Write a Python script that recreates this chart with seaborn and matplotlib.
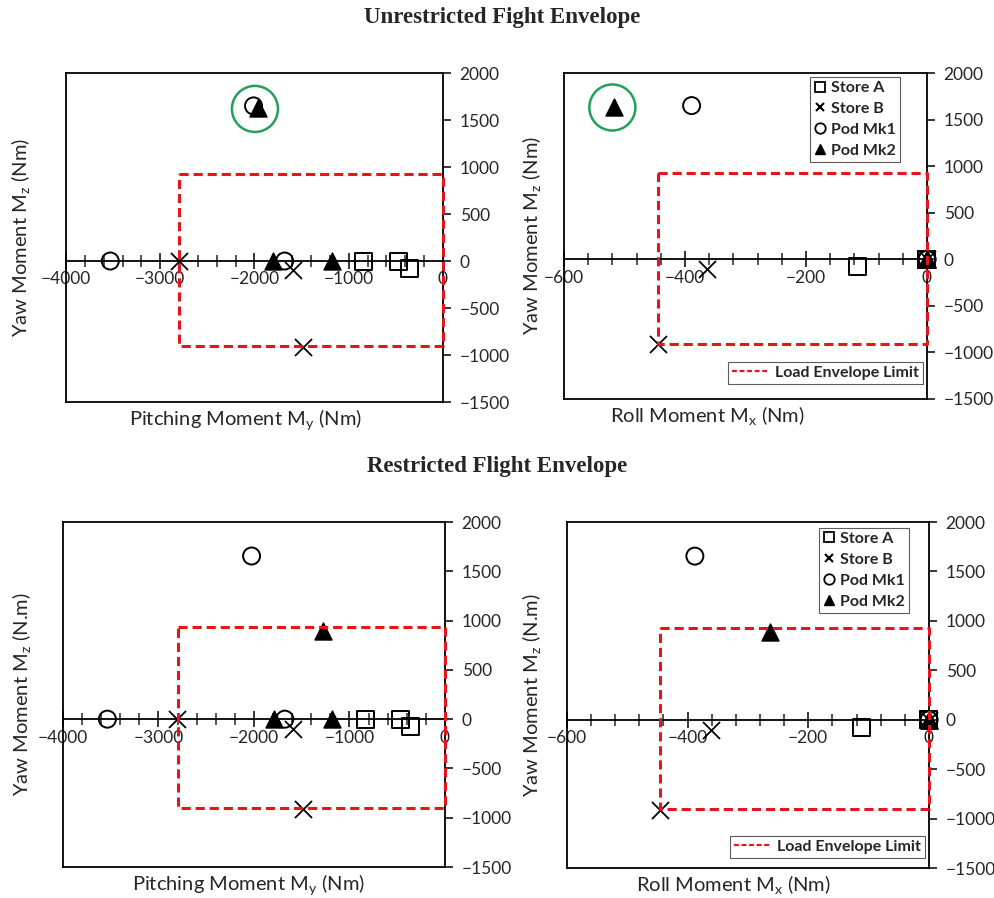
import numpy as np
import pandas as pd
import seaborn as sns
import matplotlib.pyplot as plt
from matplotlib.lines import Line2D
from matplotlib.ticker import MultipleLocator

sns.set_theme(style="white")
plt.rcParams["font.family"] = ["Lato", "DejaVu Sans"]
plt.rcParams["mathtext.default"] = "regular"

stores = ["Store A", "Store B", "Pod Mk1", "Pod Mk2"]

# unrestricted flight envelope
my_u = {"Store A": [-840, -470, -360], "Store B": [-2800, -1590, -1490],
        "Pod Mk1": [-3530, -1680, -2010], "Pod Mk2": [-1800, -1180, -1965]}
mx_u = {"Store A": [0, 0, -114], "Store B": [0, -363, -445],
        "Pod Mk1": [0, 0, -389], "Pod Mk2": [0, 0, -518]}
mz_u = {"Store A": [0, 0, -80], "Store B": [0, -100, -915],
        "Pod Mk1": [0, 0, 1650], "Pod Mk2": [0, 0, 1630]}

# restricted flight envelope
my_r = {"Store A": [-830, -470, -360], "Store B": [-2810, -1590, -1485],
        "Pod Mk1": [-3535, -1677, -2025], "Pod Mk2": [-1790, -1180, -1280]}
mx_r = {"Store A": [0, 0, -111], "Store B": [0, -362, -445],
        "Pod Mk1": [0, 0, -388], "Pod Mk2": [0, 0, -263]}
mz_r = {"Store A": [0, 0, -76], "Store B": [0, -100, -910],
        "Pod Mk1": [0, 0, 1655], "Pod Mk2": [0, 0, 890]}

# load envelope limits
my_lim = -2800
mx_lim = -445
mz_lo, mz_hi = -905, 930

# green highlight rings (top row)
ring_my = [-1995, 1618]
ring_mx = [-520, 1630]

mstyle = {
    "Store A": dict(marker="s", facecolor="none", edgecolor="black", linewidth=1.4),
    "Store B": dict(marker="x", color="black", linewidth=1.3),
    "Pod Mk1": dict(marker="o", facecolor="none", edgecolor="black", linewidth=1.4),
    "Pod Mk2": dict(marker="^", color="black", edgecolor="black", linewidth=1.0),
}


def panel(ax, xs, zs, xlim, xmajor, xminor, env_x, xlabel, ylabel,
          xl_pos, yl_pos, ring=None):
    for s in stores:
        df = pd.DataFrame({"x": xs[s], "z": zs[s]})
        sns.scatterplot(data=df, x="x", y="z", s=150, ax=ax, clip_on=False,
                        zorder=6, legend=False, **mstyle[s])
    ex = [env_x, 0, 0, env_x, env_x]
    ey = [mz_hi, mz_hi, mz_lo, mz_lo, mz_hi]
    ax.plot(ex, ey, color="#e8141b", lw=2.2, ls=(0, (3, 1.6)), zorder=7, clip_on=False)
    if ring is not None:
        ax.scatter([ring[0]], [ring[1]], s=1100, facecolor="none",
                   edgecolor="#23a05a", linewidth=1.8, zorder=5)
    ax.set_xlim(xlim, 0)
    ax.set_ylim(-1500, 2000)
    # x axis through zero, y axis on the right
    ax.spines["bottom"].set_position(("data", 0))
    for k in ["left", "top", "right", "bottom"]:
        ax.spines[k].set_color("black")
        ax.spines[k].set_linewidth(1.3)
        ax.spines[k].set_visible(True)
    ax.plot([0, 1], [0, 0], transform=ax.transAxes, color="black", lw=1.3, clip_on=False)
    ax.xaxis.set_major_locator(MultipleLocator(xmajor))
    ax.xaxis.set_minor_locator(MultipleLocator(xminor))
    ax.tick_params(axis="x", which="major", direction="inout", length=11, width=1.3,
                   labelsize=12.5, pad=2, bottom=True)
    ax.tick_params(axis="x", which="minor", direction="inout", length=9, width=1.1, bottom=True)
    ax.yaxis.set_major_locator(MultipleLocator(500))
    ax.yaxis.tick_right()
    ax.tick_params(axis="y", which="major", direction="out", length=6, width=1.3,
                   labelsize=12.5, pad=6, right=True, left=False)
    ax.set_xlabel(xlabel, fontsize=14.5)
    ax.xaxis.set_label_coords(xl_pos, -0.015)
    ax.set_ylabel(ylabel, fontsize=14.5)
    ax.yaxis.set_label_position("left")
    ax.yaxis.set_label_coords(yl_pos, 0.5)
    ax.grid(False)
    ax.set_facecolor("white")


def add_legends(ax, anchor1, anchor2):
    handles = [
        Line2D([], [], ls="none", marker="s", mfc="none", mec="black", ms=7.5, mew=1.3),
        Line2D([], [], ls="none", marker="x", color="black", ms=6, mew=1.5),
        Line2D([], [], ls="none", marker="o", mfc="none", mec="black", ms=7.5, mew=1.3),
        Line2D([], [], ls="none", marker="^", color="black", ms=7.5),
    ]
    leg1 = ax.legend(handles, stores, loc="upper right", bbox_to_anchor=anchor1,
                     borderaxespad=0, frameon=True, fancybox=False, edgecolor="#333333",
                     prop={"weight": "bold", "size": 11.5}, handlelength=0.8,
                     handletextpad=0.3, labelspacing=0.42, borderpad=0.25)
    leg1.get_frame().set_linewidth(0.8)
    ax.add_artist(leg1)
    env_h = [Line2D([], [], color="#e8141b", lw=1.6, ls=(0, (2.2, 1.2)))]
    leg2 = ax.legend(env_h, ["Load Envelope Limit"], loc="lower right",
                     bbox_to_anchor=anchor2, borderaxespad=0, frameon=True,
                     fancybox=False, edgecolor="#333333",
                     prop={"weight": "bold", "size": 11.5}, handlelength=2.3,
                     handletextpad=0.4, borderpad=0.25)
    leg2.get_frame().set_linewidth(0.8)


fig = plt.figure(figsize=(9.95, 8.98), dpi=100)
ax1 = fig.add_axes([0.0663, 0.5523, 0.3789, 0.3664])
ax2 = fig.add_axes([0.5668, 0.5557, 0.3648, 0.3630])
ax3 = fig.add_axes([0.0633, 0.0345, 0.3839, 0.3842])
ax4 = fig.add_axes([0.5698, 0.0334, 0.3638, 0.3853])

yl_u = "Yaw Moment M$_z$ (Nm)"
yl_r = "Yaw Moment M$_z$ (N.m)"
xl_my = "Pitching Moment M$_y$ (Nm)"
xl_mx = "Roll Moment M$_x$ (Nm)"

panel(ax1, my_u, mz_u, -4000, 1000, 200, my_lim, xl_my, yl_u, 0.477, -0.09, ring_my)
panel(ax2, mx_u, mz_u, -600, 200, 40, mx_lim, xl_mx, yl_u, 0.394, -0.058, ring_mx)
panel(ax3, my_r, mz_r, -4000, 1000, 200, my_lim, xl_my, yl_r, 0.485, -0.079)
panel(ax4, mx_r, mz_r, -600, 200, 40, mx_lim, xl_mx, yl_r, 0.46, -0.066)

add_legends(ax2, (0.926, 0.988), (0.99, 0.046))
add_legends(ax4, (0.945, 0.983), (0.989, 0.029))

fig.text(0.505, 0.98, "Unrestricted Fight Envelope", ha="center", va="center",
         fontsize=16.5, fontweight="bold", family="Liberation Serif")
fig.text(0.5, 0.48, "Restricted Flight Envelope", ha="center", va="center",
         fontsize=16.5, fontweight="bold", family="Liberation Serif")

fig.savefig("out.png", dpi=100)
